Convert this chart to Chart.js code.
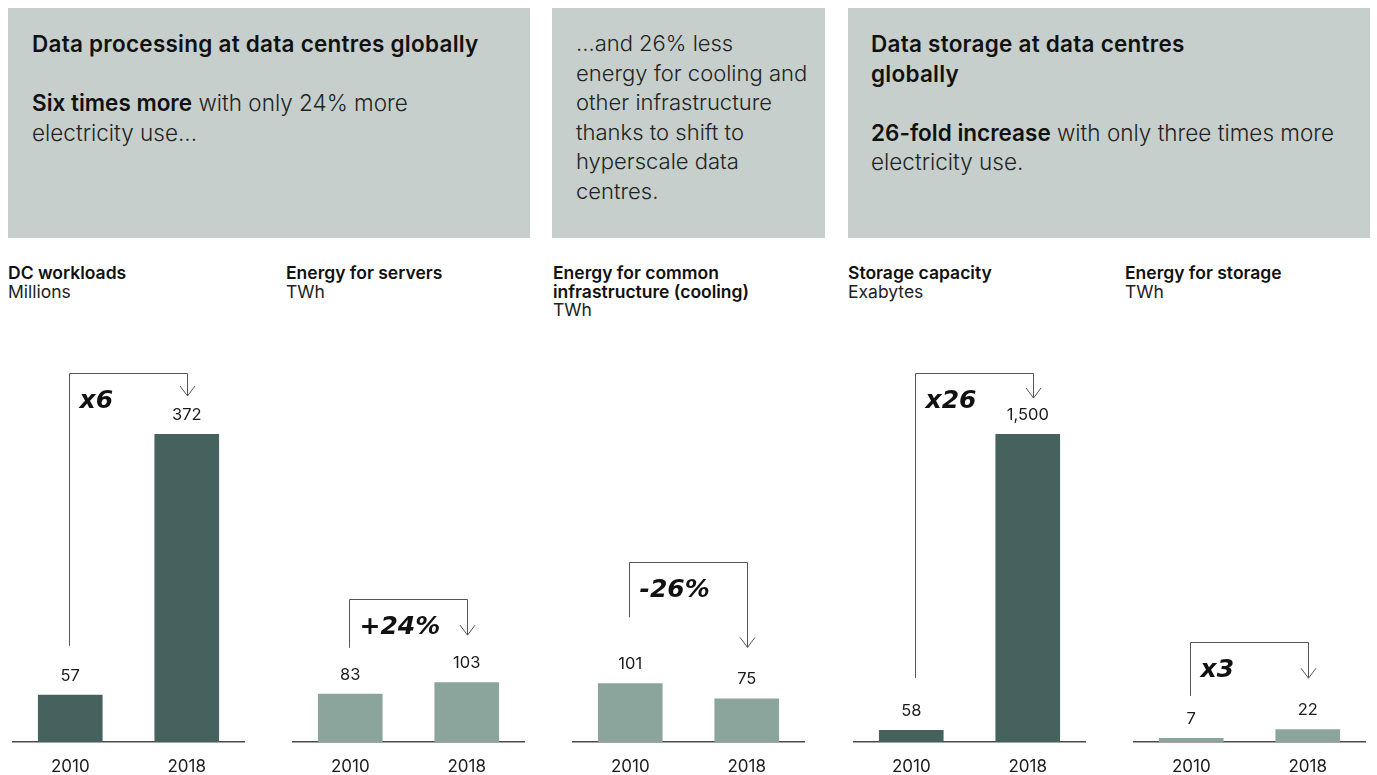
<!DOCTYPE html>
<html lang="en">
<head>
<meta charset="utf-8">
<title>Data centres: workloads, storage and energy, 2010 and 2018</title>
<script src="https://cdn.jsdelivr.net/npm/chart.js@4.4.1/dist/chart.umd.min.js"></script>
<style>
  html, body { margin: 0; padding: 0; background: #fff; }
  body {
    width: 1377px; height: 775px; position: relative; overflow: hidden;
    font-family: Inter, "Noto Sans", sans-serif; color: #1b1b1b;
  }
  .box {
    position: absolute; top: 8px; height: 230px; box-sizing: border-box;
    background: #c6cfcc; padding: 21px 0 0 24px;
    font-size: 22.5px; line-height: 29.5px; font-weight: 300; color: #222;
  }
  .box b { font-weight: 600; color: #111; }
  .box .head { letter-spacing: 0.25px; }
  .panel-title { position: absolute; top: 264px; font-size: 17.5px; line-height: 18.5px; color: #222; }
  .panel-title b { display: block; font-weight: 600; color: #111; }
  canvas { position: absolute; top: 330px; }
</style>
</head>
<body>

<div class="box" style="left:8px;width:522px;"><b class="head">Data processing at data centres globally</b><br><br><b>Six times more</b> with only 24% more<br>electricity use...</div>
<div class="box" style="left:552px;width:273px;font-size:22px;">...and 26% less<br>energy for cooling and<br>other infrastructure<br>thanks to shift to<br>hyperscale data<br>centres.</div>
<div class="box" style="left:848px;width:522px;padding-left:23px;"><b class="head">Data storage at data centres<br>globally</b><br><br><b>26-fold increase</b> with only three times more<br>electricity use.</div>

<div class="panel-title" style="left:8px;"><b>DC workloads</b>Millions</div>
<div class="panel-title" style="left:286px;"><b>Energy for servers</b>TWh</div>
<div class="panel-title" style="left:553px;"><b>Energy for common<br>infrastructure (cooling)</b>TWh</div>
<div class="panel-title" style="left:848px;"><b>Storage capacity</b>Exabytes</div>
<div class="panel-title" style="left:1125px;"><b>Energy for storage</b>TWh</div>

<canvas id="c0" width="233" height="445" style="left:12px;"></canvas>
<canvas id="c1" width="233" height="445" style="left:292px;"></canvas>
<canvas id="c2" width="233" height="445" style="left:572px;"></canvas>
<canvas id="c3" width="233" height="445" style="left:853px;"></canvas>
<canvas id="c4" width="233" height="445" style="left:1133px;"></canvas>

<script>
// values
const YEARS = ['2010', '2018'];
const WORKLOADS = [57, 372];          // millions
const SERVER_ENERGY = [83, 103];      // TWh
const COOLING_ENERGY = [101, 75];     // TWh
const STORAGE_CAPACITY = [58, 1500];  // exabytes
const STORAGE_ENERGY = [7, 22];       // TWh
const CHANGES = ['x6', '+24%', '-26%', 'x26', 'x3'];

const DARK = '#46625f';
const LIGHT = '#8ba59c';
const INK = '#1b1b1b';
const LINE = '#555';
const FONT = 'Inter, "Noto Sans", sans-serif';

// all TWh panels share one scale
const TWH_MAX = 530;

const PANELS = [
  { values: WORKLOADS,        max: 372,     color: DARK,  note: CHANGES[0], rise: 61,  leftGap: 49, arrowGap: 38, dx: 0 },
  { values: SERVER_ENERGY,    max: TWH_MAX, color: LIGHT, note: CHANGES[1], rise: 83,  leftGap: 46, arrowGap: 47, dx: 0 },
  { values: COOLING_ENERGY,   max: TWH_MAX, color: LIGHT, note: CHANGES[2], rise: 121, leftGap: 66, arrowGap: 51, dx: 0 },
  { values: STORAGE_CAPACITY, max: 1500,    color: DARK,  note: CHANGES[3], rise: 61,  leftGap: 52, arrowGap: 36, dx: 5 },
  { values: STORAGE_ENERGY,   max: TWH_MAX, color: LIGHT, note: CHANGES[4], rise: 87,  leftGap: 42, arrowGap: 51, dx: 0 },
];

/* ---- value labels + change bracket ---- */
const annotate = {
  id: 'annotate',
  afterDatasetsDraw(chart, args, opts) {
    const ctx = chart.ctx;
    const bars = chart.getDatasetMeta(0).data;
    const values = chart.data.datasets[0].data;

    ctx.save();
    ctx.fillStyle = INK;
    ctx.font = '16.5px ' + FONT;
    ctx.textAlign = 'center';
    ctx.textBaseline = 'middle';
    bars.forEach((bar, i) => {
      ctx.fillText(values[i].toLocaleString('en-US'), bar.x, bar.y - 19);
    });

    const a = bars[0], b = bars[1];
    const topY = Math.min(a.y, b.y) - opts.rise;
    const x1 = Math.round(a.x + opts.dx - 1) + 0.5;
    const x2 = Math.round(b.x + opts.dx) + 0.5;
    const tip = b.y - opts.arrowGap;

    ctx.strokeStyle = LINE;
    ctx.lineWidth = 1;
    ctx.beginPath();
    ctx.moveTo(x1, a.y - opts.leftGap);
    ctx.lineTo(x1, Math.round(topY) + 0.5);
    ctx.lineTo(x2, Math.round(topY) + 0.5);
    ctx.lineTo(x2, tip);
    ctx.moveTo(x2 - 7.5, tip - 10);
    ctx.lineTo(x2, tip);
    ctx.lineTo(x2 + 7.5, tip - 10);
    ctx.stroke();

    // hand-lettered change figure
    ctx.fillStyle = '#111';
    ctx.font = 'italic bold 25px "DejaVu Sans", sans-serif';
    ctx.textAlign = 'left';
    ctx.fillText(opts.note, x1 + 10, topY + 28);
    ctx.restore();
  },
};

function panel(canvasId, p) {
  return new Chart(document.getElementById(canvasId), {
    type: 'bar',
    data: {
      labels: YEARS,
      datasets: [{
        data: p.values,
        backgroundColor: p.color,
        categoryPercentage: 1,
        barPercentage: 0.555,
      }],
    },
    options: {
      responsive: false,
      animation: false,
      layout: { padding: { top: 104, left: 0, right: 0, bottom: 0 } },
      plugins: {
        legend: { display: false },
        tooltip: { enabled: false },
        annotate: p,
      },
      scales: {
        x: {
          grid: { display: false, drawTicks: false },
          border: { display: true, color: '#4a4a4a', width: 1.5 },
          ticks: { color: INK, padding: 15, font: { family: FONT, size: 17 } },
          afterFit(scale) { scale.height = 33; },
        },
        y: { display: false, min: 0, max: p.max },
      },
    },
    plugins: [annotate],
  });
}

PANELS.forEach((p, i) => panel('c' + i, p));
</script>
</body>
</html>
